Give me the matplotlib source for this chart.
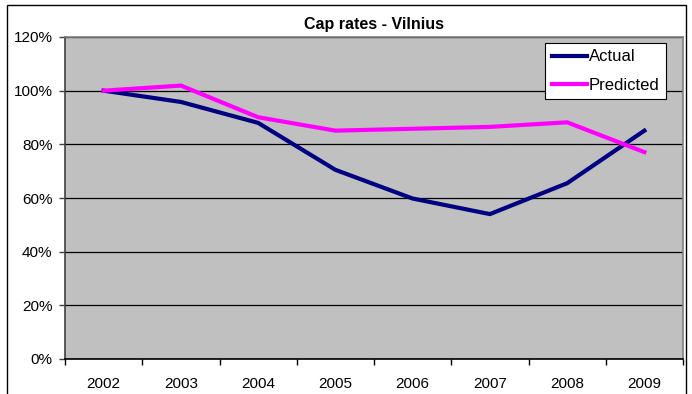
import matplotlib
matplotlib.use('Agg')
import matplotlib.pyplot as plt
from matplotlib.patches import Rectangle
from matplotlib.ticker import FuncFormatter

# Cap rate index, 2002 = 100%
years = ['2002', '2003', '2004', '2005', '2006', '2007', '2008', '2009']
actual = [100.0, 95.8, 88.0, 70.5, 59.8, 54.0, 65.5, 85.1]
predicted = [100.0, 101.9, 90.1, 85.1, 85.8, 86.5, 88.2, 77.1]

NAVY = '#000080'
MAGENTA = '#FF00FF'
PLOT_BG = '#C0C0C0'

plt.rcParams.update({
    'font.family': ['Liberation Sans', 'DejaVu Sans'],
    'font.size': 11,
})

fig = plt.figure(figsize=(6.92, 3.94), dpi=100)
ax = fig.add_axes([65 / 692, 35 / 394, 618 / 692, 322 / 394])

# outer chart frame (runs off the bottom edge)
fig.patches.append(Rectangle((7 / 692, -0.1), 679 / 692, 1.1 - 5 / 394,
                             transform=fig.transFigure, fill=False,
                             edgecolor='black', linewidth=1.0))

ax.set_facecolor(PLOT_BG)
x = list(range(len(years)))
ax.plot(x, actual, color=NAVY, lw=3.0, label='Actual', solid_joinstyle='miter')
ax.plot(x, predicted, color=MAGENTA, lw=3.0, label='Predicted', solid_joinstyle='miter')

ax.set_xlim(-0.5, len(years) - 0.5)
ax.set_ylim(0, 120)
ax.set_yticks(range(0, 121, 20))
ax.yaxis.set_major_formatter(FuncFormatter(lambda v, _: f'{v:.0f}%'))
ax.grid(axis='y', color='black', lw=0.9)
ax.set_axisbelow(True)

# category labels between boundary tick marks
ax.set_xticks(x)
ax.set_xticklabels(years)
ax.set_xticks([i - 0.5 for i in range(len(years) + 1)], minor=True)
ax.tick_params(axis='x', which='major', length=0, pad=13)
ax.tick_params(axis='x', which='minor', length=4, width=1, color='black', direction='out')
ax.tick_params(axis='y', length=4, width=1, direction='out', pad=5, color='#404040')

for side in ('top', 'right'):
    ax.spines[side].set_color('#808080')
    ax.spines[side].set_linewidth(1.2)
ax.spines['left'].set_color('#404040')
ax.spines['left'].set_linewidth(1.2)
ax.spines['bottom'].set_color('black')
ax.spines['bottom'].set_linewidth(1.2)

ax.set_title('Cap rates - Vilnius', fontweight='bold', fontsize=11.5, pad=6)

leg = ax.legend(loc='upper right', bbox_to_anchor=(0.9725, 0.982), fontsize=12,
                frameon=True, fancybox=False, framealpha=1, edgecolor='black',
                handlelength=2.1, handletextpad=0.1, borderpad=0.4,
                labelspacing=0.8, borderaxespad=0)
leg.get_frame().set_linewidth(0.8)

fig.savefig('out.png', dpi=100)
